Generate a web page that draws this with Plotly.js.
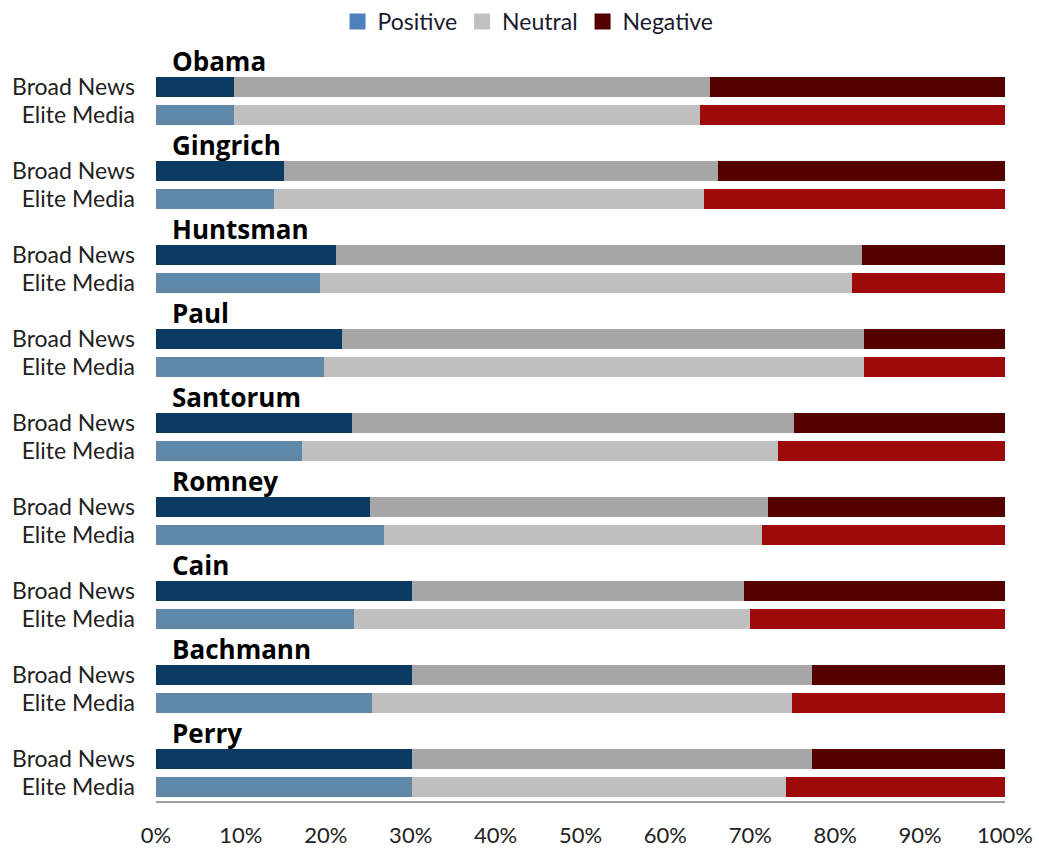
<!DOCTYPE html>
<html>
<head>
<meta charset="utf-8">
<script src="https://cdn.plot.ly/plotly-3.0.1.min.js"></script>
<style>html,body{margin:0;padding:0;background:#fff;}#chart{width:1039px;height:848px;}</style>
</head>
<body>
<div id="chart"></div>
<script>
const candidates = ['Obama','Gingrich','Huntsman','Paul','Santorum','Romney','Cain','Bachmann','Perry'];
const outlets = ['Broad News','Elite Media'];
const broadPositive = [9.2,15.1,21.2,21.9,23.1,25.2,30.2,30.2,30.2];
const broadNeutral  = [56.1,51.1,62.0,61.5,52.0,46.9,39.1,47.1,47.1];
const broadNegative = [34.7,33.8,16.8,16.6,24.9,27.9,30.7,22.7,22.7];
const elitePositive = [9.2,13.9,19.3,19.8,17.2,26.9,23.3,25.4,30.2];
const eliteNeutral  = [54.9,50.6,62.7,63.6,56.1,44.5,46.7,49.5,44.0];
const eliteNegative = [35.9,35.5,18.0,16.6,26.7,28.6,30.0,25.1,25.8];
const xTicks = [0,10,20,30,40,50,60,70,80,90,100];

const FONT = 'Lato, "Open Sans", sans-serif';
const BOLDFONT = '"Open Sans", Lato, sans-serif';
// each candidate occupies three slots: name, Broad News, Elite Media
const nameY = candidates.map((c,i)=>3*i);
const broadY = candidates.map((c,i)=>3*i+1);
const eliteY = candidates.map((c,i)=>3*i+2);
const BW = 0.72;

function bar(x, y, color, name){
  return {type:'bar', orientation:'h', x:x, y:y, width:BW, name:name,
    marker:{color:color, line:{width:0}}, showlegend:false, hoverinfo:'x+y'};
}
const traces = [
  bar(broadPositive, broadY, '#0B3B63', 'Positive'),
  bar(broadNeutral,  broadY, '#A6A6A6', 'Neutral'),
  bar(broadNegative, broadY, '#550000', 'Negative'),
  bar(elitePositive, eliteY, '#5F87A7', 'Positive'),
  bar(eliteNeutral,  eliteY, '#BFBFBF', 'Neutral'),
  bar(eliteNegative, eliteY, '#9E0A0A', 'Negative')
];
// legend entries
[['Positive','#4F81BD'],['Neutral','#C0C0C0'],['Negative','#550000']].forEach(([n,c])=>{
  traces.push({type:'scatter', mode:'markers', x:[null], y:[null], name:n,
    marker:{color:c, symbol:'square', size:18}, showlegend:true, hoverinfo:'skip'});
});

const tickvals = [], ticktext = [];
candidates.forEach((c,i)=>{ tickvals.push(broadY[i], eliteY[i]); ticktext.push(outlets[0], outlets[1]); });

const annotations = candidates.map((c,i)=>({
  text:'<b>'+c+'</b>', x:0, y:nameY[i], xref:'x', yref:'y', xanchor:'left', yanchor:'middle',
  xshift:14, yshift:-2, showarrow:false, font:{family:BOLDFONT, size:26, color:'#000'}
}));

const layout = {
  width:1039, height:848,
  margin:{l:156, r:34, t:45, b:47},
  barmode:'stack', bargap:0,
  paper_bgcolor:'#fff', plot_bgcolor:'#fff',
  font:{family:FONT, size:22, color:'#222'},
  showlegend:true,
  legend:{orientation:'h', x:528/1039, xanchor:'center', xref:'container', y:1, yanchor:'top', yref:'container',
    font:{family:FONT, size:23, color:'#1a1a2e'}, traceorder:'normal', itemwidth:30, tracegroupgap:0,
    bgcolor:'rgba(0,0,0,0)'},
  xaxis:{range:[0,100], tickvals:xTicks, ticktext:xTicks.map(v=>v+'%'), showgrid:false, zeroline:false,
    showline:true, linecolor:'#A0A0A0', linewidth:2, ticks:'', ticklabelstandoff:14,
    tickfont:{family:FONT, size:22, color:'#222'}, fixedrange:true},
  yaxis:{range:[26.5,-0.5], tickvals:tickvals, ticktext:ticktext, showgrid:false, zeroline:false,
    showline:false, ticks:'', ticklabelstandoff:20, tickfont:{family:FONT, size:23, color:'#222'}, fixedrange:true},
  annotations:annotations
};
Plotly.newPlot('chart', traces, layout, {displayModeBar:false, staticPlot:true});
</script>
</body>
</html>
